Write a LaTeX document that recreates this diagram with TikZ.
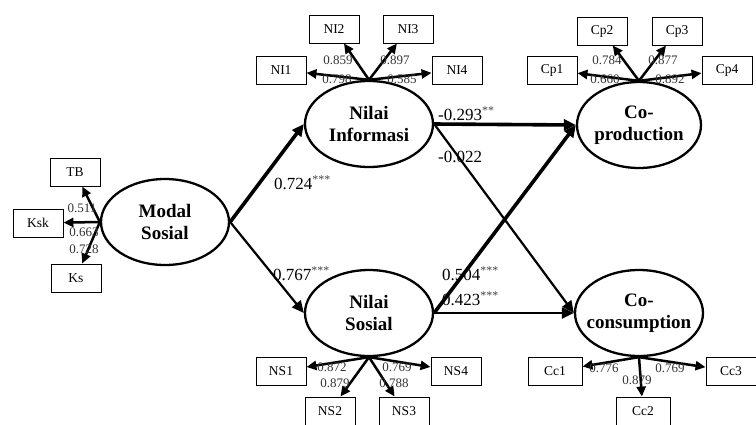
\documentclass[tikz,border=0pt]{standalone}
\usepackage{fontspec}
\setmainfont{Liberation Serif}
\usetikzlibrary{arrows.meta,shapes.geometric}
\begin{document}
\begin{tikzpicture}[x=1pt,y=-1pt,
 lat/.style={ellipse, draw, line width=2.3pt, minimum width=128pt, minimum height=86pt, inner sep=0pt},
 latt/.style={font=\fontsize{19}{22}\selectfont\bfseries, align=center, inner sep=0pt},
 ind/.style={rectangle, draw, line width=0.9pt, minimum width=50pt, minimum height=28pt, inner sep=0pt, font=\fontsize{13.5}{14}\selectfont},
 ld/.style={-{Triangle[length=10pt,width=9pt]}, line width=2.5pt},
 lbl/.style={font=\fontsize{13}{13}\selectfont, text=black!80, inner sep=0pt},
 pth/.style={-{Triangle[length=12pt,width=11pt]}, line width=2.2pt},
 thk/.style={line width=3.6pt},
 plbl/.style={font=\fontsize{17}{17}\selectfont, inner sep=0pt, anchor=west}]
\useasboundingbox (0,0) rectangle (756,424);
% latent variables
\node[lat] (MS) at (165,222) {};
\node[lat] (NI) at (369,124) {};
\node[lat, minimum width=124pt] (CP) at (639,125) {};
\node[lat] (NS) at (369,313) {};
\node[lat] (CC) at (639,313) {};
\node[latt] (MSt) at (165,222) {Modal\\Sosial};
\node[latt] (NIt) at (369,124) {Nilai\\Informasi};
\node[latt] (CPt) at (639,125) {Co-\\production};
\node[latt] (NSt) at (369,313) {Nilai\\Sosial};
\node[latt] (CCt) at (639,313) {Co-\\consumption};
% indicators
\node[ind] (TB) at (75,172) {TB};
\node[ind] (Ksk) at (38,223) {Ksk};
\node[ind] (Ks) at (76,278) {Ks};
\node[ind] (NI1) at (281,70) {NI1};
\node[ind] (NI2) at (334,29) {NI2};
\node[ind] (NI3) at (408,29) {NI3};
\node[ind] (NI4) at (457,70) {NI4};
\node[ind] (Cp1) at (552,70) {Cp1};
\node[ind] (Cp2) at (602,31) {Cp2};
\node[ind] (Cp3) at (677,31) {Cp3};
\node[ind] (Cp4) at (727,70) {Cp4};
\node[ind] (NS1) at (281,371) {NS1};
\node[ind] (NS2) at (330,411) {NS2};
\node[ind] (NS3) at (404,411) {NS3};
\node[ind] (NS4) at (456,371) {NS4};
\node[ind, minimum width=54pt] (Cc1) at (555,371) {Cc1};
\node[ind, minimum width=54pt] (Cc2) at (643,411) {Cc2};
\node[ind] (Cc3) at (731,371) {Cc3};
% loadings
\foreach \t in {TB,Ksk,Ks} \draw[ld] (MS.west) -- (\t);
\foreach \t in {NI1,NI2,NI3,NI4} \draw[ld] (NI.north) -- (\t);
\foreach \t in {Cp1,Cp2,Cp3,Cp4} \draw[ld] (CP.north) -- (\t);
\foreach \t in {NS1,NS2,NS3,NS4} \draw[ld] (NS.south) -- (\t);
\foreach \t in {Cc1,Cc2,Cc3} \draw[ld] (CC.south) -- (\t);
\node[lbl] (l1) at (82,208) {0.511};
\node[lbl] (l2) at (84,232) {0.663};
\node[lbl] (l3) at (84,249) {0.728};
\node[lbl] (l4) at (338,60) {0.859};
\node[lbl] (l5) at (337,79) {0.798};
\node[lbl] (l6) at (395,60) {0.897};
\node[lbl] (l7) at (402,79) {0.585};
\node[lbl] (l8) at (607,60) {0.784};
\node[lbl] (l9) at (605,79) {0.660};
\node[lbl] (l10) at (663,60) {0.877};
\node[lbl] (l11) at (670,79) {0.892};
\node[lbl] (l12) at (332,367) {0.872};
\node[lbl] (l13) at (335,383) {0.879};
\node[lbl] (l14) at (397,367) {0.769};
\node[lbl] (l15) at (394,383) {0.788};
\node[lbl] (l16) at (604,368) {0.776};
\node[lbl] (l17) at (637,380) {0.879};
\node[lbl] (l18) at (670,368) {0.769};
% structural paths
\draw[pth, thk] (MS.east) -- (NI.west);
\draw[pth] (MS.east) -- (NS.west);
\draw[pth, thk] (NI.east) -- (CP.west);
\draw[pth] (NI.east) -- (CC.west);
\draw[pth, thk] (NS.east) -- (CP.west);
\draw[pth] (NS.east) -- (CC.west);
\node[plbl] (p1) at (274,183) {0.724\textsuperscript{\color{black!75}***}};
\node[plbl] (p2) at (273,274) {0.767\textsuperscript{\color{black!75}***}};
\node[plbl] (p3) at (438,114) {-0.293\textsuperscript{\color{black!75}**}};
\node[plbl] (p4) at (438,157) {-0.022};
\node[plbl] (p5) at (442,274) {0.504\textsuperscript{\color{black!75}***}};
\node[plbl] (p6) at (442,299) {0.423\textsuperscript{\color{black!75}***}};
\end{tikzpicture}
\end{document}
